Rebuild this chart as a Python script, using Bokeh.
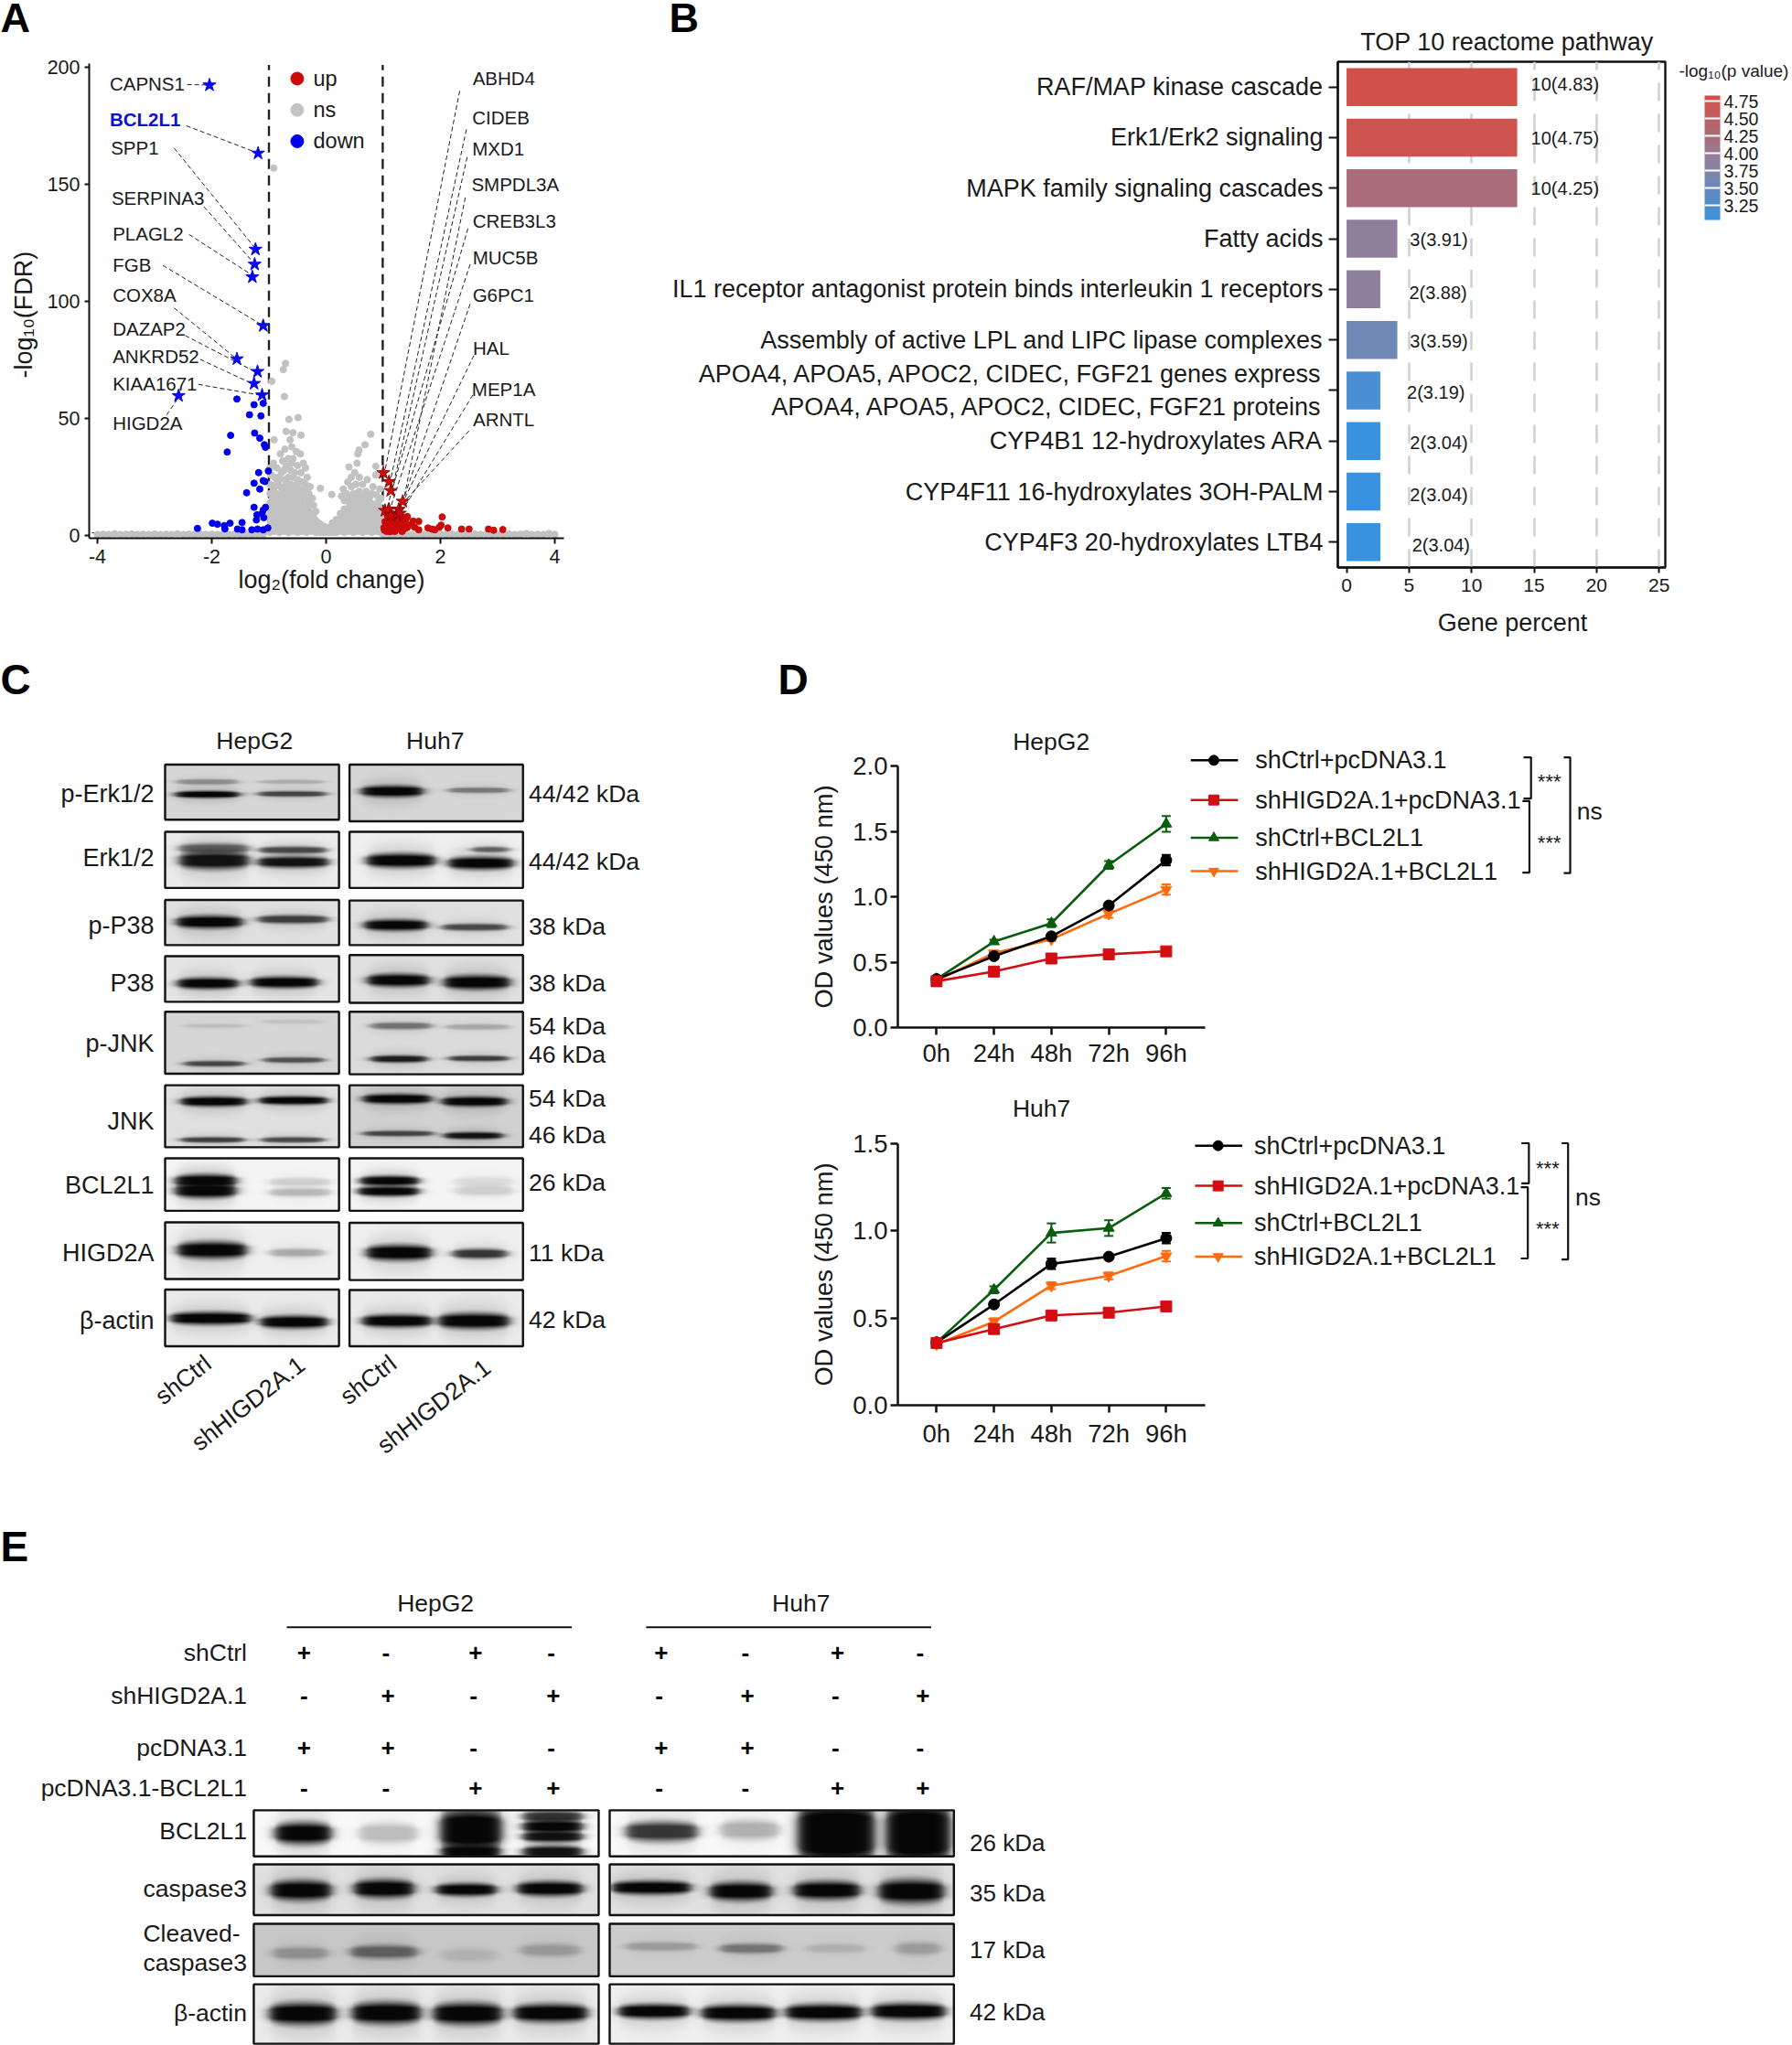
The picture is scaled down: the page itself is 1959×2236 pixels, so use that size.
import numpy as np
from bokeh.plotting import figure
from bokeh.embed import file_html
from bokeh.resources import INLINE
from bokeh.core.properties import value
from bokeh.models import (Range1d, FactorRange, FixedTicker, LinearColorMapper, ColorBar, AllLabels,
                          Whisker, TeeHead, ColumnDataSource, PrintfTickFormatter)

FONT = "Liberation Sans"

# ---------- Panel A data ----------
up_dots = [(2.03,8.1),(1.52,6.3),(1.62,6.2),(1.42,8.3),(1.46,4.6),(1.55,3.7),(1.42,3.6),(2.01,4.6),(1.98,3.7),(2.13,3.4),
           (1.78,3.4),(1.85,2.9),(2.37,2.9),(2.5,2.9),(2.84,2.9),(2.93,2.4),(3.09,2.7),(1.62,2.6),(1.9,2.6),
           (1.02,2.4),(1.05,4.2),(1.03,6.1),(1.08,2.8),(1.1,5.1),(1.12,7.2),(1.14,3.0),(1.16,4.8),(1.18,6.6),(1.2,2.6),
           (1.22,8.1),(1.24,5.0),(1.26,3.1),(1.28,6.9),(1.3,2.7),(1.32,4.9),(1.34,8.0),(1.36,2.9),(1.38,6.0),(1.07,8.6),
           (1.01,3.5),(1.15,9.4),(1.06,1.9),(1.2,1.9),(1.33,1.9),(1.25,7.6),(1.4,7.4),(1.12,1.8)]
up_x = [p[0] for p in up_dots]
up_y = [p[1] for p in up_dots]
down_dots = [(-1.56,58.4),(-1.26,56),(-1.1,56.6),(-1.34,51.7),(-1.14,51.2),(-1.25,43.9),(-1.16,41.7),(-1.67,42.9),(-1.73,35.8),
             (-1.08,38.9),(-1.06,37.8),(-1.01,27.7),(-1.18,27),(-1.1,23.6),(-1.07,23.2),(-1.26,22.5),(-1.39,18.4),(-1.16,20),
             (-1.26,12.2),(-1.06,12.2),(-1.1,11),(-1.21,9),(-1.12,9.6),(-1.22,6.8),(-1.09,7.8),(-1.99,5.4),(-1.9,5),(-1.78,4.4),
             (-1.68,5.4),(-1.47,5.7),(-2.25,3.2),(-1.77,3.0),(-1.55,2.9),(-1.47,2.6),(-1.3,2.6),(-1.2,2.9),(-1.1,2.6),(-1.02,3.4)]
down_x = [p[0] for p in down_dots]
down_y = [p[1] for p in down_dots]
down_star_x = [-2.04,-1.19,-1.235,-1.25,-1.29,-1.1,-1.56,-1.2,-1.26,-1.12,-2.58]
down_star_y = [192.4,163.3,122.3,115.9,110.5,89.7,75.5,70.1,65,60.1,59.8]
up_star_x = [1.0,1.1,1.13,1.34,1.03,1.1,1.27,1.23,1.29,1.13]
up_star_y = [26.9,23.1,19.3,14.7,10.8,11.3,11.3,9.1,9.6,8.8]
ns_points = [
 (-0.915,157),(-0.71,73.6),(-0.75,71),(-0.95,66),(-0.73,59.5),(-0.65,49.7),(-0.49,50.5),(-0.7,44.6),(-0.58,44),(-0.44,43),
 (-0.91,41),(-0.63,41),(0.78,43.4),(0.68,38.9),(0.575,36.6),(0.555,35),(0.54,31),(0.4,29.4),(0.87,29.7),(0.87,26),(-0.1,20.3),(0.1,17.7),
 (-0.6,38),(-0.72,37),(-0.52,36),(-0.8,35),(-0.45,35),(-0.66,33),(-0.58,33),(-0.76,32),(-0.92,31),(-0.4,31),(-0.98,29),(-0.86,29),
 (-0.7,30),(-0.5,30),(-0.36,29),(-0.62,28),(-0.55,27),(-0.96,26),(-0.44,27),(-0.78,27),(-0.9,25),(-0.66,25),(-0.58,25),(-0.33,25),
 (-0.72,24),(-0.5,24),(-0.42,23),(-0.98,22),(-0.84,23),(-0.62,22),(-0.36,22),(-0.28,21),(-0.92,20),(-0.76,20),(-0.55,20),(-0.46,20),
 (-0.68,19),(-0.3,18),(-0.86,18),(-0.98,18),(-0.24,16),(-0.88,22),(-0.8,21),(-0.7,22),(-0.64,20),(-0.52,22),(-0.4,19),(-0.34,20),
 (-0.94,17.5),(-0.74,19.5),(-0.56,18.5),(-0.48,18),(-0.38,17),(-0.3,15),(-0.22,13),(-0.18,10.5),(-0.82,25),(-0.6,31),(-0.74,28),
 (0.5,27),(0.44,25),(0.58,25),(0.38,23),(0.72,24),(0.52,22),(0.64,22),(0.44,21),(0.3,20),(0.82,21),(0.94,20),(0.58,19),(0.7,19),
 (0.36,18),(0.48,18),(0.27,17),(0.88,17.5),(0.62,16.5),(0.76,16.5),(0.96,16),(0.32,15),(0.42,17),(0.54,17),(0.68,17),(0.8,18),(0.92,15),
 (-0.98,1.5),(-0.98,4),(-0.98,6.5),(-0.98,9),(-0.98,11.5),(-0.98,14),(-0.9,2),(-0.9,4.5),(-0.9,7),(-0.9,9.5),(-0.9,12),(-0.9,14.5),(-0.9,16),
 (-0.82,1.5),(-0.82,4),(-0.82,6.5),(-0.82,9),(-0.82,11.5),(-0.82,14),(-0.82,16.5),(-0.74,2),(-0.74,4.5),(-0.74,7),(-0.74,9.5),(-0.74,12),(-0.74,14.5),(-0.74,17),
 (-0.66,1.5),(-0.66,4),(-0.66,6.5),(-0.66,9),(-0.66,11.5),(-0.66,14),(-0.66,16.5),(-0.58,2),(-0.58,4.5),(-0.58,7),(-0.58,9.5),(-0.58,12),(-0.58,14.5),(-0.58,17),
 (-0.5,1.5),(-0.5,4),(-0.5,6.5),(-0.5,9),(-0.5,11.5),(-0.5,14),(-0.5,16),(-0.42,2),(-0.42,4.5),(-0.42,7),(-0.42,9.5),(-0.42,12),(-0.42,14.5),
 (-0.34,1.5),(-0.34,4),(-0.34,6.5),(-0.34,9),(-0.34,11.5),(-0.34,13),(-0.26,2),(-0.26,4.5),(-0.26,7),(-0.26,9.5),(-0.18,1.5),(-0.18,4),(-0.18,6.5),
 (-0.1,1.5),(-0.1,3.5),(-0.1,5),(-0.03,1.5),(-0.03,3),(-0.03,4),(0.04,1.5),(0.04,3.5),(0.11,1.5),(0.11,4),(0.11,5.5),
 (0.18,1.5),(0.18,4),(0.18,7),(0.25,2),(0.25,4.5),(0.25,7),(0.25,9.5),(0.32,1.5),(0.32,4),(0.32,6.5),(0.32,9),(0.32,11.5),
 (0.4,2),(0.4,4.5),(0.4,7),(0.4,9.5),(0.4,12),(0.4,14.5),(0.48,1.5),(0.48,4),(0.48,6.5),(0.48,9),(0.48,11.5),(0.48,14),(0.48,16),
 (0.56,2),(0.56,4.5),(0.56,7),(0.56,9.5),(0.56,12),(0.56,14.5),(0.64,1.5),(0.64,4),(0.64,6.5),(0.64,9),(0.64,11.5),(0.64,14),
 (0.72,2),(0.72,4.5),(0.72,7),(0.72,9.5),(0.72,12),(0.72,14),(0.8,1.5),(0.8,4),(0.8,6.5),(0.8,9),(0.8,11.5),(0.8,13.5),
 (0.88,2),(0.88,4.5),(0.88,7),(0.88,9.5),(0.88,12),(0.95,1.5),(0.95,4),(0.95,6.5),(0.95,9),(0.95,11),
 (-0.94,3),(-0.94,5.5),(-0.94,8),(-0.94,10.5),(-0.94,13),(-0.94,15.5),(-0.86,3),(-0.86,5.5),(-0.86,8),(-0.86,10.5),(-0.86,13),(-0.86,15.5),(-0.86,17.5),
 (-0.78,3),(-0.78,5.5),(-0.78,8),(-0.78,10.5),(-0.78,13),(-0.78,15.5),(-0.78,18),(-0.7,3),(-0.7,5.5),(-0.7,8),(-0.7,10.5),(-0.7,13),(-0.7,15.5),(-0.7,18.5),
 (-0.62,3),(-0.62,5.5),(-0.62,8),(-0.62,10.5),(-0.62,13),(-0.62,15.5),(-0.62,18),(-0.54,3),(-0.54,5.5),(-0.54,8),(-0.54,10.5),(-0.54,13),(-0.54,15.5),(-0.54,17),
 (-0.46,3),(-0.46,5.5),(-0.46,8),(-0.46,10.5),(-0.46,13),(-0.46,15.5),(-0.38,3),(-0.38,5.5),(-0.38,8),(-0.38,10.5),(-0.38,13),(-0.3,3),(-0.3,5.5),(-0.3,8),(-0.3,10.5),
 (-0.22,3),(-0.22,5.5),(-0.22,8),(-0.14,3),(-0.14,5.5),
 (0.14,3),(0.14,5.5),(0.21,3),(0.21,6),(0.28,3),(0.28,5.5),(0.28,8.5),(0.36,3),(0.36,5.5),(0.36,8),(0.36,11),(0.44,3),(0.44,5.5),(0.44,8),(0.44,10.5),(0.44,13.5),
 (0.52,3),(0.52,5.5),(0.52,8),(0.52,10.5),(0.52,13),(0.52,15.5),(0.6,3),(0.6,5.5),(0.6,8),(0.6,10.5),(0.6,13),(0.6,15.5),(0.68,3),(0.68,5.5),(0.68,8),(0.68,10.5),(0.68,13),(0.68,14.5),
 (0.76,3),(0.76,5.5),(0.76,8),(0.76,10.5),(0.76,13),(0.76,14.5),(0.84,3),(0.84,5.5),(0.84,8),(0.84,10.5),(0.84,13.5),(0.92,3),(0.92,5.5),(0.92,8),(0.92,10.5),(0.92,12.5),
 (-4,.6),(-3.9,.7),(-3.8,.6),(-3.7,.9),(-3.6,.6),(-3.5,.7),(-3.4,.8),(-3.3,.6),(-3.2,.7),(-3.1,.6),(-3,.8),(-2.9,.6),(-2.8,.7),(-2.7,.6),(-2.6,.9),
 (-2.5,.6),(-2.4,.7),(-2.3,.6),(-2.2,.8),(-2.1,.6),(-2,.7),(-1.9,.6),(-1.8,.7),(-1.7,.6),(-1.6,.8),(-1.5,.6),(-1.4,.7),(-1.3,.6),(-1.2,.7),(-1.1,.6),
 (1,.7),(1.1,.6),(1.2,.7),(1.3,.6),(1.4,.8),(1.5,.6),(1.6,.7),(1.7,.6),(1.8,.7),(1.9,.6),(2,.8),(2.1,.6),(2.2,.7),(2.3,.6),(2.4,.7),(2.5,.6),
 (2.6,.8),(2.7,.6),(2.8,.7),(2.9,.6),(3,.7),(3.1,.6),(3.2,.8),(3.3,.6),(3.4,.7),(3.5,1),(3.6,.6),(3.7,.7),(3.8,.6),(3.9,1),(4,.6)]
ns_x = [p[0] for p in ns_points]
ns_y = [p[1] for p in ns_points]
volcano_x_ticks = [-4,-2,0,2,4]
volcano_y_ticks = [0,50,100,150,200]
left_genes = ["CAPNS1","BCL2L1","SPP1","SERPINA3","PLAGL2","FGB","COX8A","DAZAP2","ANKRD52","KIAA1671","HIGD2A"]
right_genes = ["ABHD4","CIDEB","MXD1","SMPDL3A","CREB3L3","MUC5B","G6PC1","HAL","MEP1A","ARNTL"]

# ---------- Panel B data ----------
pathways = ["RAF/MAP kinase cascade","Erk1/Erk2 signaling","MAPK family signaling cascades","Fatty acids",
            "IL1 receptor antagonist protein binds interleukin 1 receptors","Assembly of active LPL and LIPC lipase complexes",
            "APOA4, APOA5, APOC2, CIDEC, FGF21 genes express\nAPOA4, APOA5, APOC2, CIDEC, FGF21 proteins",
            "CYP4B1 12-hydroxylates ARA","CYP4F11 16-hydroxylates 3OH-PALM","CYP4F3 20-hydroxylates LTB4"]
gene_percent = [13.65,13.65,13.65,4.06,2.7,4.06,2.7,2.7,2.7,2.7]
log_p = [4.83,4.75,4.25,3.91,3.88,3.59,3.19,3.04,3.04,3.04]
bar_notes = ["10(4.83)","10(4.75)","10(4.25)","3(3.91)","2(3.88)","3(3.59)","2(3.19)","2(3.04)","2(3.04)","2(3.04)"]

# ---------- Panel D data ----------
hours = [0,24,48,72,96]
hour_labels = ["0h","24h","48h","72h","96h"]
series_names = ["shCtrl+pcDNA3.1","shHIGD2A.1+pcDNA3.1","shCtrl+BCL2L1","shHIGD2A.1+BCL2L1"]
hep_ctrl = [0.37,0.546,0.697,0.933,1.28]
hep_sh = [0.354,0.428,0.528,0.56,0.583]
hep_bcl = [0.37,0.657,0.797,1.243,1.557]
hep_shbcl = [0.36,0.568,0.675,0.87,1.055]
hep_ctrl_e = [0.01,0.02,0.02,0.02,0.04]
hep_sh_e = [0.01,0.01,0.01,0.01,0.01]
hep_bcl_e = [0.01,0.015,0.03,0.03,0.06]
hep_shbcl_e = [0.01,0.01,0.015,0.03,0.04]
huh_ctrl = [0.36,0.578,0.811,0.852,0.958]
huh_sh = [0.357,0.437,0.515,0.531,0.567]
huh_bcl = [0.36,0.662,0.988,1.016,1.215]
huh_shbcl = [0.35,0.479,0.686,0.742,0.855]
huh_ctrl_e = [0.01,0.015,0.03,0.015,0.03]
huh_sh_e = [0.01,0.01,0.02,0.015,0.015]
huh_bcl_e = [0.01,0.02,0.055,0.045,0.03]
huh_shbcl_e = [0.01,0.02,0.02,0.02,0.03]
D_COLORS = ["#000000","#d40d12","#0a5c0e","#ff6a0d"]
D_MARKS = ["circle","square","triangle","inverted_triangle"]

W, H = 1959, 2236
abs_style = lambda l, t: {"position":"absolute","left":f"{l}px","top":f"{t}px"}

canvas = figure(width=W, height=H, x_range=Range1d(0,W), y_range=Range1d(H,0), output_backend="svg",
                toolbar_location=None, min_border=0, outline_line_color=None, background_fill_color=None,
                border_fill_color="white", x_axis_type=None, y_axis_type=None, styles=abs_style(0,0))
canvas.grid.visible = False

def T(x, y, s, size=26, align="left", bold=False, color="#1a1a1a", angle=0):
    canvas.text(x=[x], y=[y], text=[s], text_font=value(FONT), text_font_size=f"{size}px", text_align=align,
                text_baseline="middle", text_color=color, text_font_style="bold" if bold else "normal",
                angle=angle, angle_units="deg")

def L(xs, ys, w=1.0, color="black", dash="solid"):
    canvas.line(xs, ys, line_width=w, line_color=color, line_dash=dash)

gray_map = LinearColorMapper(palette=[f"#{i:02x}{i:02x}{i:02x}" for i in range(256)], low=0, high=255)

def blot(box, bg, bands, sx, ox, sy, oy, soft=7.0):
    x0, y0, x1, y1 = (box[0]*sx+ox, box[1]*sy+oy, box[2]*sx+ox, box[3]*sy+oy)
    w, h = int(round(x1-x0)), int(round(y1-y0))
    xs = np.arange(w)+x0
    ys = np.arange(h)+y0
    tr = np.ones((h,w))
    for a,b,yc,th,d in bands:
        a,b,yc = a*sx+ox, b*sx+ox, yc*sy+oy
        th = th*sy*1.32
        hx = 0.5*(np.tanh((xs-a)/soft)-np.tanh((xs-b)/soft))
        t = np.clip((xs-a)/max(b-a,1),0,1)
        taper = 0.6+0.4*np.sqrt(np.sin(np.pi*t))
        Y = ys[:,None]
        T_ = th*taper[None,:]
        core = np.minimum(1.0,1.35*np.exp(-((Y-yc)/T_)**2))
        halo = 0.16*np.exp(-((Y-yc)/(T_*2.4))**2)
        pr = np.maximum(core,halo)
        tr *= 1-d*pr*hx[None,:]
    img = (bg*tr+6*(1-tr)).clip(0,255).astype("uint8")
    canvas.image(image=[img], x=x0, y=y0, dw=w, dh=h, color_mapper=gray_map)
    canvas.quad(left=[x0], right=[x1], top=[y0], bottom=[y1], fill_color=None, line_color="#111", line_width=2.4)

# ---------- Panel letters ----------
T(0,19,"A",45,bold=True,color="black")
T(731,19,"B",45,bold=True,color="black")
T(0,742,"C",46,bold=True,color="black")
T(850,742,"D",46,bold=True,color="black")
T(0,1690,"E",46,bold=True,color="black")

# ---------- Panel A annotations ----------
ax = 640/1568; ay = 680/1568
left_lab = [(295,212),(295,302),(298,372),(300,500),(303,590),(303,667),(303,744),(303,828),(303,899),(303,968),(303,1066)]
left_lead = [(500,212,552,213),(498,316,682,382),(465,372,680,622),(545,520,672,655),(505,590,670,690),(435,668,695,815),
             (465,775,625,898),(495,845,680,935),(535,905,672,965),(530,968,695,995),(445,1045,472,1008)]
right_lab = [(1267,197),(1266,296),(1266,374),(1264,464),(1267,558),(1267,649),(1267,744),(1268,878),(1265,980),(1268,1058)]
right_lead = [(1230,228,1030,1185),(1248,325,1045,1208),(1250,395,1050,1230),(1245,497,1080,1258),(1252,575,1035,1280),
              (1258,665,1045,1278),(1258,765,1072,1278),(1268,895,1065,1290),(1265,995,1075,1288),(1255,1085,1085,1260)]
for g,(zx,zy) in zip(left_genes,left_lab):
    T(zx*ax-1,zy*ay-0.5,g,20.5,bold=(g=="BCL2L1"),color="#1010d0" if g=="BCL2L1" else "#1a1a1a")
for g,(zx,zy) in zip(right_genes,right_lab):
    T(zx*ax-1,zy*ay-0.5,g,20.5)
for a,b,c,d in left_lead+right_lead:
    L([a*ax,c*ax],[b*ay,d*ay],1.0,"#222","5 3")
for zy,s,c in [(197,"up","#cc0a0a"),(276,"ns","#c4c4c4"),(355,"down","#0000ee")]:
    canvas.scatter([324.4],[zy*ay],size=14,marker="circle",color=c)
    T(342,zy*ay,s,23.5)
T(362,633,"log\u2082(fold change)",27,align="center")
T(25,343.6,"-log\u2081\u2080(FDR)",27,align="center",angle=90)

# ---------- Panel B annotations ----------
T(1647,45.5,"TOP 10 reactome pathway",27,align="center")
T(1835,77,"-log\u2081\u2080(p value)",19)
T(1653,680,"Gene percent",27,align="center")
stops = ["#3892e0","#4a8fd3","#6f88b5","#907f9b","#a96c78","#cf544f","#d1504a"]
stop_v = [3.04,3.19,3.59,3.91,4.25,4.75,4.83]
def hx2(c): return [int(c[i:i+2],16) for i in (1,3,5)]
arr = np.array([hx2(c) for c in stops],float)
vv = np.linspace(3.04,4.83,96)
pal = ["#%02x%02x%02x"%tuple(int(round(np.interp(v,stop_v,arr[:,k]))) for k in range(3)) for v in vv]
pmap = LinearColorMapper(palette=pal,low=3.04,high=4.83)

# ---------- Panel C ----------
cx = 720/1568; cy = 900/1568
T(605*cx,192*cy+699,"HepG2",26.5,align="center")
T(1035*cx,192*cy+699,"Huh7",26.5,align="center")
LH = (392,806); RH = (831,1244)
c_rows = [
 (236,341,215,[(415,568,292,5,1),(418,565,268,4,.35),(612,775,291,4,.7),(615,770,268,3,.2)],
  236,344,215,[(858,1005,286,8,1),(1065,1210,284,4,.45)]),
 (364,471,235,[(425,590,418,12,.95),(425,590,395,7,.6),(612,780,421,8,.95),(615,775,398,5,.7)],
  364,471,240,[(870,1035,418,10,1),(1065,1220,423,9,1),(1120,1210,397,4,.6)]),
 (494,580,225,[(418,575,535,9,1),(612,778,530,6,.75)],
  495,580,225,[(865,1015,541,8,1),(1050,1205,545,5,.7)]),
 (601,688,230,[(420,565,652,8,1),(595,755,650,8,1)],
  599,690,225,[(872,1020,646,9,1),(1055,1212,650,10,1)]),
 (707,825,215,[(435,580,805,4,.7),(625,770,798,4,.65),(435,580,733,3,.12),(620,770,725,3,.1)],
  707,826,220,[(880,1025,733,5,.5),(1060,1210,735,4,.25),(880,1015,796,5,.9),(1065,1210,795,4,.75)]),
 (847,965,225,[(428,585,877,7,1),(615,778,875,6,1),(428,580,950,4,.75),(620,770,950,4,.7)],
  847,965,210,[(862,1025,872,7,1),(1050,1205,877,7,1),(862,1030,938,4,.7),(1055,1195,942,5,.95)]),
 (986,1086,245,[(415,560,1028,9,1),(415,560,1047,10,1),(640,785,1030,6,.15),(640,785,1050,6,.25)],
  986,1086,245,[(855,995,1028,7,1),(850,995,1048,7,1),(1080,1220,1030,7,.1),(1080,1220,1047,7,.15)]),
 (1108,1216,240,[(420,585,1160,12,1),(640,770,1165,6,.3)],
  1109,1218,240,[(870,1025,1165,11,1),(1075,1205,1167,7,.8)]),
 (1236,1344,235,[(405,595,1290,9,1),(618,778,1297,9,1)],
  1237,1344,235,[(860,1025,1295,9,1),(1042,1210,1295,11,1)]),
]
for t1,b1,bg1,bd1,t2,b2,bg2,bd2 in c_rows:
    blot((LH[0],t1,LH[1],b1),bg1,bd1,cx,0,cy,700)
    blot((RH[0],t2,RH[1],b2),bg2,bd2,cx,0,cy,700)
for s,zy in [("p-Erk1/2",292),("Erk1/2",413),("p-P38",543),("P38",652),("p-JNK",768),("JNK",915),("BCL2L1",1037),("HIGD2A",1167),("β-actin",1295)]:
    T(168,zy*cy+700,s,27,align="right")
for s,zy in [("44/42 kDa",292),("44/42 kDa",420),("38 kDa",545),("38 kDa",652),("54 kDa",735),("46 kDa",789),("54 kDa",872),("46 kDa",941),("26 kDa",1033),("11 kDa",1166),("42 kDa",1294)]:
    T(577.4,zy*cy+700,s,26.6)
for s,x,y in [("shCtrl",199.7,1508),("shHIGD2A.1",270.8,1534),("shCtrl",402,1508),("shHIGD2A.1",473.7,1537)]:
    T(x,y,s,26.5,align="center",angle=38)

# ---------- Panel D annotations ----------
dx = 920/1568; dy = 830/1568
T(492*dx+860,58*dy+780,"HepG2",26.5,align="center")
T(474*dx+860,815*dy+780,"Huh7",26.5,align="center")
def dlegend(tx,ys,x0,x1,xm):
    for nm,zy,c,m in zip(series_names,ys,D_COLORS,D_MARKS):
        y = zy*dy+780
        L([x0*dx+860,x1*dx+860],[y,y],2.5,c)
        canvas.scatter([xm*dx+860],[y],size=11,marker=m,color=c)
        T(tx*dx+860,y,nm,27)
dlegend(872,[96,178,256,325],752,840,795)
dlegend(870,[892,975,1052,1121],760,848,803)
def bracket(x,t,b,tick):
    X=[(x-tick)*dx+860,x*dx+860,x*dx+860,(x-tick)*dx+860]
    Y=[t*dy+780,t*dy+780,b*dy+780,b*dy+780]
    L(X,Y,2.2,"#111")
for a in [(1386,90,175,14),(1383,180,328,13),(1459,90,329,12),(1382,887,970,14),(1380,978,1125,13),(1455,887,1127,12)]:
    bracket(*a)
for zx,zy in [(1420,140),(1420,267),(1417,938),(1417,1063)]:
    T(zx*dx+860,zy*dy+780,"***",22,align="center")
for zx,zy in [(1495,202),(1492,998)]:
    T(zx*dx+860,zy*dy+780,"ns",26.5,align="center")

# ---------- Panel E ----------
ex = 1180/1568; ey = 576/1568; ey0 = 1660; et = ey0-1.5
T(632*ex,255*ey+et,"HepG2",26.5,align="center")
T(1163*ex,255*ey+et,"Huh7",26.5,align="center")
L([416*ex,830*ex],[323*ey+ey0]*2,2,"#111")
L([938*ex,1352*ex],[323*ey+ey0]*2,2,"#111")
sign_cols = [[(441,"+"),(560,"-"),(690,"+"),(800,"-"),(960,"+"),(1082,"-"),(1216,"+"),(1336,"-")],
             [(441,"-"),(563,"+"),(687,"-"),(803,"+"),(957,"-"),(1085,"+"),(1213,"-"),(1340,"+")],
             [(441,"+"),(563,"+"),(687,"-"),(800,"-"),(960,"+"),(1085,"+"),(1213,"-"),(1336,"-")],
             [(441,"-"),(560,"-"),(690,"+"),(803,"+"),(957,"-"),(1082,"-"),(1216,"+"),(1340,"+")]]
for s,zy,row in zip(["shCtrl","shHIGD2A.1","pcDNA3.1","pcDNA3.1-BCL2L1"],[403,532,685,805],sign_cols):
    T(269.5,zy*ey+et,s,26.5,align="right")
    for zx,m in row:
        T(zx*ex,zy*ey+et,m,26,align="center",bold=True,color="black")
EL=(368,869); ER=(885,1385)
e_rows = [
 (868,1005,250,[(398,480,935,24,1),(520,605,935,22,.25),(638,728,925,50,1),(640,725,990,14,1),(758,845,915,14,1),(758,845,945,12,.95),(758,845,885,12,.8),(758,845,990,13,.95)],
  250,[(908,1012,930,22,.8),(1045,1130,925,22,.3),(1157,1270,935,80,1),(1285,1380,935,80,1)]),
 (1029,1180,225,[(392,480,1105,22,1),(513,600,1100,20,1),(632,720,1103,14,1),(750,845,1100,16,1)],
  225,[(888,1002,1097,15,1),(1030,1120,1108,20,1),(1152,1248,1105,20,1),(1275,1370,1108,26,1)]),
 (1206,1362,200,[(395,475,1292,14,.3),(508,605,1288,15,.55),(640,720,1298,14,.12),(755,840,1283,14,.25)],
  205,[(908,1010,1272,10,.25),(1045,1135,1278,11,.45),(1170,1255,1278,10,.15),(1300,1365,1278,14,.25)]),
 (1386,1563,235,[(390,487,1472,24,1),(510,610,1470,24,1),(628,728,1472,24,1),(745,852,1470,20,1)],
  240,[(897,1000,1465,16,1),(1018,1125,1470,18,1),(1140,1250,1468,18,1),(1265,1372,1465,18,1)]),
]
for t,b,bg1,bd1,bg2,bd2 in e_rows:
    blot((EL[0],t,EL[1],b),bg1,bd1,ex,0,ey,ey0)
    blot((ER[0],t,ER[1],b),bg2,bd2,ex,0,ey,ey0)
T(269.5,935*ey+et,"BCL2L1",26.5,align="right")
T(269.5,1105*ey+et,"caspase3",26.5,align="right")
T(209,1238*ey+et,"Cleaved-",26.5,align="center")
T(269.5,1325*ey+et,"caspase3",26.5,align="right")
T(269.5,1475*ey+et,"β-actin",26.5,align="right")
for s,zy in [("26 kDa",968),("35 kDa",1118),("17 kDa",1287),("42 kDa",1472)]:
    T(1059.6,zy*ey+et,s,26)

# ---------- real plots ----------
def plot_at(l,t,r,b,pl,pt,pr,pb,xr,yr):
    p = figure(width=int(r-l+pl+pr), height=int(b-t+pt+pb), x_range=xr, y_range=yr, output_backend="svg",
               toolbar_location=None, min_border_left=pl, min_border_top=pt, min_border_right=pr, min_border_bottom=pb,
               background_fill_color=None, border_fill_color=None, outline_line_color=None,
               styles=abs_style(l-pl,t-pt))
    p.grid.visible = False
    return p

def style_axis(ax_, size, lw=2, tick=6, labsize=None, standoff=5):
    ax_.major_label_text_font = FONT
    ax_.major_label_text_font_size = f"{size}px"
    ax_.major_label_text_color = "#1a1a1a"
    ax_.axis_line_width = lw
    ax_.axis_line_color = "#111"
    ax_.major_tick_line_width = lw
    ax_.major_tick_line_color = "#111"
    ax_.major_tick_out = tick
    ax_.major_tick_in = 0
    ax_.minor_tick_line_color = None
    ax_.major_label_standoff = standoff
    ax_.axis_label_text_font = FONT
    ax_.axis_label_text_font_style = "normal"
    ax_.axis_label_text_color = "#1a1a1a"
    if labsize: ax_.axis_label_text_font_size = f"{labsize}px"

# Panel A plot
vol = plot_at(97,69,616,588.5,90,16,20,40,Range1d(-4.144,4.16),Range1d(-1,201.6))
style_axis(vol.xaxis[0],21.5,2,6,None,6)
style_axis(vol.yaxis[0],21.5,2,5,None,5)
vol.xaxis[0].ticker = FixedTicker(ticks=volcano_x_ticks)
vol.yaxis[0].ticker = FixedTicker(ticks=volcano_y_ticks)
vol.xaxis[0].major_label_overrides = {v:str(v) for v in volcano_x_ticks}
vol.segment(x0=[-4.1],x1=[4.1],y0=[1.3],y1=[1.3],line_color="#333",line_width=1,line_dash="5 4")
vol.segment(x0=[-1.0,0.99],x1=[-1.0,0.99],y0=[2,2],y1=[201,201],line_color="#222",line_width=2.4,line_dash="11 7")
vol.scatter(ns_x,ns_y,size=7.2,marker="circle",color="#c2c2c2")
vol.scatter(down_x,down_y,size=7,marker="circle",color="#0000ee")
vol.scatter(up_x,up_y,size=7,marker="circle",color="#cc0a0a")
vol.scatter(down_star_x,down_star_y,size=15,marker="star",fill_color="#0808e8",line_color="#0808e8")
vol.scatter(up_star_x,up_star_y,size=15,marker="star",fill_color="#cc0a0a",line_color="#8e0606")

# Panel B plot
br = plot_at(1462,67,1820,620,745,4,20,50,Range1d(-0.7,25.5),FactorRange(factors=pathways[::-1],range_padding=0))
style_axis(br.xaxis[0],21,2,6,None,6)
style_axis(br.yaxis[0],27,2,10,None,6)
br.outline_line_color="#111"; br.outline_line_width=2.4
br.xaxis[0].ticker = FixedTicker(ticks=[0,5,10,15,20,25])
br.xgrid.visible = True
br.xgrid.ticker = FixedTicker(ticks=[5,10,15,20,25])
br.xgrid.grid_line_color = "#cfcfcf"
br.xgrid.grid_line_width = 2.5
br.xgrid.grid_line_dash = "20 14"
bs = ColumnDataSource(dict(y=pathways,r=gene_percent,p=log_p,n=bar_notes,
                           x=[14.75,14.75,14.75,5.07,5.0,5.07,4.83,5.07,5.07,5.24],
                           o=[-3,1,0,1,3.5,1,2,2,3.5,3]))
br.hbar(y="y",right="r",left=0,height=0.75,source=bs,line_color=None,
        fill_color={"field":"p","transform":pmap})
br.text(x="x",y="y",text="n",source=bs,y_offset="o",text_font=value(FONT),text_font_size="20px",text_baseline="middle",text_color="#1a1a1a")

cb = ColorBar(color_mapper=pmap, ticker=FixedTicker(ticks=[3.25,3.5,3.75,4.0,4.25,4.5,4.75]), location=(1863,H-240),
              width=17, height=136, padding=0, margin=0, major_label_text_font_size="19.5px",
              major_label_text_font=FONT, major_label_text_color="#1a1a1a", major_tick_line_color="white",
              major_tick_line_width=2, major_tick_in=17, minor_tick_line_color=None, bar_line_color=None,
              label_standoff=4, major_label_policy=AllLabels(), formatter=PrintfTickFormatter(format="%.2f"))
canvas.add_layout(cb,"center")

# Panel D plots
def od_plot(t,b,ymax,ticks,series,errs,xoff):
    l,r = 981.4,1317.6
    p = plot_at(l,t,r,b,100,20,4,60,Range1d(-16.2,112.3),Range1d(0,ymax))
    style_axis(p.xaxis[0],27.5,2.5,8,None,xoff)
    style_axis(p.yaxis[0],27.5,2.5,8,27.3,3)
    p.xaxis[0].ticker = FixedTicker(ticks=hours)
    p.xaxis[0].major_label_overrides = dict(zip(hours,hour_labels))
    p.yaxis[0].ticker = FixedTicker(ticks=ticks)
    p.yaxis[0].major_label_overrides = {v:f"{v:.1f}" for v in ticks}
    p.yaxis[0].axis_label = "OD values (450 nm)"
    p.yaxis[0].axis_label_standoff = 13
    for i in [3,2,0,1]:
        vals,e,c,m = series[i],errs[i],D_COLORS[i],D_MARKS[i]
        src = ColumnDataSource(dict(x=hours,y=vals,u=[a+d for a,d in zip(vals,e)],d=[a-d for a,d in zip(vals,e)]))
        p.add_layout(Whisker(source=src,base="x",upper="u",lower="d",line_color=c,line_width=2,
                             upper_head=TeeHead(size=10,line_color=c,line_width=2),
                             lower_head=TeeHead(size=10,line_color=c,line_width=2)))
        p.line("x","y",source=src,line_color=c,line_width=2.6)
        p.scatter("x","y",source=src,marker=m,size=12,color=c)
    return p

d1 = od_plot(836.6,1123.3,2.0,[0,0.5,1.0,1.5,2.0],[hep_ctrl,hep_sh,hep_bcl,hep_shbcl],[hep_ctrl_e,hep_sh_e,hep_bcl_e,hep_shbcl_e],4)
d2 = od_plot(1249.8,1536.5,1.5,[0,0.5,1.0,1.5],[huh_ctrl,huh_sh,huh_bcl,huh_shbcl],[huh_ctrl_e,huh_sh_e,huh_bcl_e,huh_shbcl_e],7)

open("out.html","w").write(file_html([canvas,vol,br,d1,d2], INLINE))
